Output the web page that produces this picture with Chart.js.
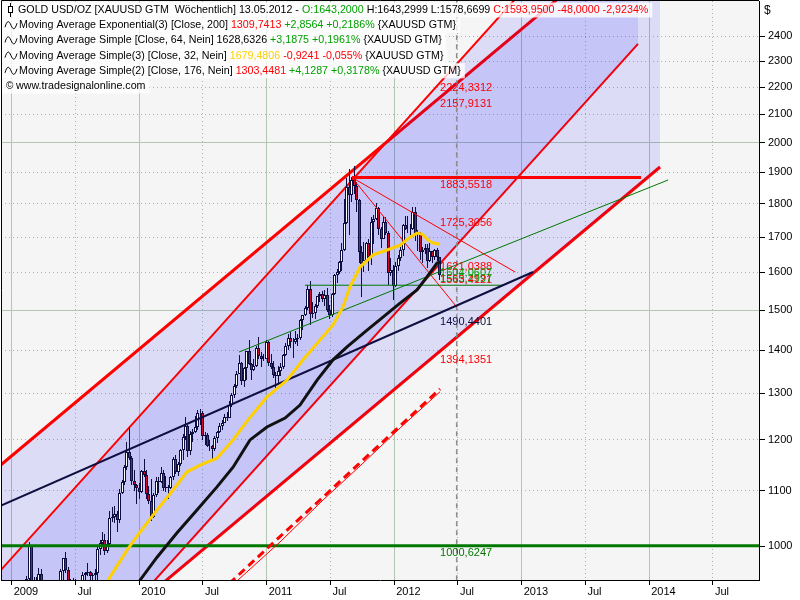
<!DOCTYPE html>
<html>
<head>
<meta charset="utf-8">
<script src="https://cdn.jsdelivr.net/npm/chart.js@4.4.1/dist/chart.umd.min.js"></script>
<style>
html, body { margin: 0; padding: 0; background: #fff; }
</style>
</head>
<body>
<canvas id="chart" width="800" height="600"></canvas>
<script>
// Wochenkerzen GOLD USD/OZ, erste Kerze Freitag 05.12.2008
const candleStart = 2008.926;
const weekStep = 7 / 365.25;

const opens = [815,752,823,838,
  873,878,853,836,899, 927,914,945,1002, 942,941,929,953, 924,898,883,869, 912,887,916,931,958, 979,960,938,935,
  940,931,912,938,951, 954,956,949,952, 955,995,1006,1010, 991,1003,1049,1051,1057, 1045,1096,1117,1146, 1176,1163,1119,1111, 1104,
  1097,1138,1130,1093, 1081,1051,1091,1118, 1117,1133,1104,1107, 1105,1125,1161,1136,1152, 1180,1207,1228,1177, 1212,1217,1226,1256,
  1256,1208,1210,1188,1188, 1181,1204,1216,1228, 1236,1248,1246,1275, 1297,1317,1345,1370,1327, 1357,1397,1367,1353, 1363,1406,1385,1378,1380,
  1421,1369,1361,1342, 1340,1350,1361,1388, 1409,1429,1421,1419, 1428,1429,1474,1486,1504, 1556,1491,1492,1511, 1536,1542,1530,1540,
  1500,1486,1542,1594,1601, 1628,1663,1743,1852, 1829,1877,1856,1813,1657, 1624,1636,1682,1642, 1745,1753,1788,1724, 1696,1746,1713,1598,1606,
  1564,1617,1639,1664, 1737,1725,1724,1725, 1776,1711,1711,1658,1662, 1669,1631,1659,1642, 1663,1643.2];
const highs = [820,830,882,876,
  885,880,857,902,935, 928,950,1007,1002, 948,948,963,962, 935,898,893,915, 915,918,932,962,980, 990,965,945,947,
  945,935,942,957,956, 972,958,955,962, 998,1010,1025,1020, 1010,1062,1070,1072,1062, 1102,1120,1150,1195, 1226,1167,1140,1112, 1115,
  1140,1162,1140,1108, 1123,1095,1125,1125, 1145,1140,1127,1110, 1127,1165,1170,1156,1182, 1212,1249,1232,1218, 1222,1250,1263,1265,
  1262,1216,1215,1200,1190, 1208,1218,1235,1242, 1254,1260,1283,1300, 1320,1350,1388,1373,1360, 1398,1424,1370,1380, 1410,1432,1395,1390,1424,
  1423,1390,1375,1348, 1362,1370,1390,1417, 1440,1445,1430,1448, 1440,1476,1487,1510,1565, 1577,1522,1515,1537, 1547,1550,1552,1558,
  1512,1545,1595,1610,1632, 1682,1814,1881,1912, 1885,1921,1870,1814,1675, 1685,1685,1695,1760, 1767,1803,1790,1730, 1760,1760,1718,1640,1620,
  1630,1648,1672,1740, 1764,1763,1739,1790, 1792,1720,1714,1672,1680, 1680,1682,1660,1667, 1668,1643.3];
const lows = [740,752,820,834,
  860,839,805,832,885, 888,905,940,935, 905,910,882,915, 880,866,865,868, 880,880,908,916,940, 955,935,923,920,
  925,905,910,930,928, 950,934,933,940, 940,985,1000,985, 988,1000,1042,1040,1025, 1040,1094,1110,1140, 1160,1110,1100,1075, 1085,
  1095,1125,1085,1075, 1044,1050,1088,1095, 1115,1100,1098,1085, 1102,1120,1132,1128,1148, 1160,1200,1166,1170, 1195,1215,1220,1232,
  1200,1190,1185,1177,1157, 1178,1193,1215,1220, 1235,1240,1245,1270, 1290,1312,1345,1318,1315, 1330,1365,1330,1350, 1360,1380,1360,1375,1378,
  1362,1355,1335,1310, 1320,1340,1355,1385, 1400,1405,1382,1416, 1410,1425,1450,1485,1500, 1462,1480,1478,1506, 1520,1520,1510,1496,
  1478,1483,1540,1572,1595, 1605,1660,1740,1705, 1805,1830,1776,1627,1535, 1600,1630,1603,1620, 1680,1750,1705,1670, 1695,1705,1565,1590,1525,
  1560,1603,1633,1645, 1722,1712,1705,1722, 1688,1660,1636,1627,1652, 1612,1628,1626,1636, 1633,1578.67];
const closes = [752,823,838,873,
  878,853,836,899,927, 914,945,1002,942, 941,929,953,924, 898,883,869,912, 887,916,931,958,979, 960,938,935,940,
  931,912,938,951,954, 956,949,952,955, 995,1006,1010,991, 1003,1049,1051,1057,1045, 1096,1117,1146,1176, 1163,1119,1111,1104, 1097,
  1138,1130,1093,1081, 1051,1091,1118,1117, 1133,1104,1107,1105, 1125,1161,1136,1152,1180, 1207,1228,1177,1212, 1217,1226,1256,1256,
  1208,1210,1188,1188,1181, 1204,1216,1228,1236, 1248,1246,1275,1297, 1317,1345,1370,1327,1357, 1397,1367,1353,1363, 1406,1385,1378,1380,1421,
  1369,1361,1342,1340, 1350,1361,1388,1409, 1429,1421,1419,1428, 1429,1474,1486,1504,1556, 1491,1492,1511,1536, 1542,1530,1540,1500,
  1486,1542,1594,1601,1628, 1663,1743,1852,1829, 1877,1856,1813,1657,1624, 1636,1682,1642,1745, 1753,1788,1724,1696, 1746,1713,1598,1606,1564,
  1617,1639,1664,1737, 1725,1724,1725,1776, 1711,1711,1658,1662,1669, 1631,1659,1642,1663, 1643,1593.95];

// Gleitende Durchschnitte
const sma32X = [2009.69,2009.755,2009.904,2010.006,2010.14,2010.265,2010.375,2010.477,2010.61,2010.736,2010.853,2011.002,2011.159,2011.285,2011.418,2011.52,2011.598,2011.653,2011.732,2011.834,2011.944,2012.046,2012.124,2012.179,2012.218,2012.265,2012.304,2012.359];
const sma32Y = [911,943,993,1024,1064,1101,1136,1149,1163,1200,1242,1292,1330,1377,1425,1462,1508,1561,1615,1649,1663,1677,1700,1712,1709,1692,1683,1679.48];
const sma64X = [2009.928,2010.006,2010.14,2010.297,2010.453,2010.61,2010.736,2010.869,2011.002,2011.144,2011.261,2011.395,2011.52,2011.63,2011.787,2011.912,2012.046,2012.179,2012.257,2012.336,2012.359];
const sma64Y = [911,943,981,1023,1064,1107,1145,1200,1227,1246,1274,1330,1377,1408,1449,1482,1518,1553,1588,1626,1628.63];
const ema200X = [2010.555,2010.736,2011.104,2011.418,2011.732,2012.046,2012.359];
const ema200Y = [909.8,943.3,1016.3,1082.3,1153.7,1229.2,1309.74];
const sma176X = [2010.595,2010.775,2011.104,2011.442,2011.732,2012.046,2012.359];
const sma176Y = [909.8,943.3,1006.9,1082.3,1147.4,1224.8,1303.45];

// Trendkanal und Linien
const chanOuterX = [2008.916, 2014.085];
const chanOuterTopY = [1149.7, 2966.0];
const chanOuterBotY = [743.4, 1917.9];
const chanInnerX = [2008.916, 2013.912];
const chanInnerTopY = [959.8, 3234.5];
const chanInnerBotY = [703.2, 2369.9];
const trendBlackX = [2008.916, 2013.089], trendBlackY = [1071.9, 1601.3];
const trendGreenX = [2010.783, 2014.148], trendGreenY = [1395.6, 1875.5];
const levelGreenX = [2011.30, 2012.853], levelGreenY = [1565.2997, 1565.2997];
const levelRedX = [2011.669, 2013.936], levelRedY = [1883.5518, 1883.5518];
const fan1X = [2011.669, 2012.948], fan1Y = [1883.5518, 1601.3];
const fan2X = [2011.669, 2012.49], fan2Y = [1883.5518, 1507.8];
const supportX = [2008.916, 2014.861], supportY = [1000.6247, 1000.6247];
const nowX = [2012.49, 2012.49], nowY = [900, 2700];

// Beschriftungen der Linien am letzten Balken
const levelAt = 2012.36;
const levelValues = [2224.3312, 2157.9131, 1883.5518, 1725.3056, 1621.0388, 1604.0607, 1565.2997, 1563.4121, 1490.4401, 1394.1351, 1000.6247];
const levelTexts = ['2224,3312', '2157,9131', '1883,5518', '1725,3056', '1621,0388', '1604,0607', '1565,2997', '1563,4121', '1490,4401', '1394,1351', '1000,6247'];

const xTickValues = [2009, 2009.5, 2010, 2010.5, 2011, 2011.5, 2012, 2012.5, 2013, 2013.5, 2014, 2014.5];
const xTickLabels = ['2009', 'Jul', '2010', 'Jul', '2011', 'Jul', '2012', 'Jul', '2013', 'Jul', '2014', 'Jul'];
const yTickValues = [1000, 1100, 1200, 1300, 1400, 1500, 1600, 1700, 1800, 1900, 2000, 2100, 2200, 2300, 2400];
const yMajor = [1000, 1500, 2000];

const RED = '#ff0000', GREEN = '#00a000', DKGREEN = '#007800', NAVY = '#0e0e40', GOLD = '#ffd000';
const FONT = '"Liberation Sans", Arial, sans-serif';
const chanFill = 'rgba(0,0,255,0.1)';

const levelColors = [RED, RED, RED, RED, RED, GREEN, GREEN, RED, NAVY, RED, DKGREEN];
const levelShift = [7, 6, 7, -6, 2, 2, -6, -6, 8, 7, 7];

const headerRows = [
  [['GOLD USD/OZ [XAUUSD GTM  Wöchentlich] 13.05.2012 - ', '#000'], ['O:1643,2000', GREEN], [' H:1643,2999 L:1578,6699 ', '#000'], ['C:1593,9500 -48,0000 -2,9234%', RED]],
  [['Moving Average Exponential(3) [Close, 200] ', '#000'], ['1309,7413', RED], [' +2,8564 +0,2186% ', GREEN], ['{XAUUSD GTM}', '#000']],
  [['Moving Average Simple [Close, 64, Nein] ', '#000'], ['1628,6326', '#000'], [' +3,1875 +0,1961% ', GREEN], ['{XAUUSD GTM}', '#000']],
  [['Moving Average Simple(3) [Close, 32, Nein] ', '#000'], ['1679,4806', GOLD], [' -0,9241 -0,055% ', RED], ['{XAUUSD GTM}', '#000']],
  [['Moving Average Simple(2) [Close, 176, Nein] ', '#000'], ['1303,4481', RED], [' +4,1287 +0,3178% ', GREEN], ['{XAUUSD GTM}', '#000']],
  [['www.tradesignalonline.com', '#000']]
];

function pts(xs, ys) { return xs.map((x, i) => ({ x: x, y: ys[i] })); }

function lineDs(xs, ys, color, width, order, extra) {
  return Object.assign({
    type: 'line', data: pts(xs, ys), borderColor: color, borderWidth: width,
    pointRadius: 0, pointHoverRadius: 0, tension: 0, fill: false, order: order, clip: 0
  }, extra || {});
}

const weekX = closes.map((c, i) => candleStart + i * weekStep);
const isUp = i => closes[i] >= opens[i];

const datasets = [
  lineDs(chanOuterX, chanOuterTopY, RED, 3, 20, { fill: { target: 1, above: chanFill, below: chanFill } }),
  lineDs(chanOuterX, chanOuterBotY, RED, 3, 20),
  lineDs(chanInnerX, chanInnerTopY, RED, 2, 19, { fill: { target: 3, above: chanFill, below: chanFill } }),
  lineDs(chanInnerX, chanInnerBotY, RED, 2, 19),
  lineDs(nowX, nowY, '#8c8c8c', 1.5, 18, { borderDash: [5, 4] }),
  {
    type: 'bar', order: 10, grouped: false, barThickness: 1, clip: 0,
    data: weekX.map((x, i) => ({ x: x, y: [lows[i], highs[i]] })),
    backgroundColor: NAVY, borderWidth: 0, inflateAmount: 0
  },
  {
    type: 'bar', order: 9, grouped: false, barThickness: 3, clip: 0,
    data: weekX.map((x, i) => ({ x: x, y: [opens[i], closes[i]] })),
    backgroundColor: c => isUp(c.dataIndex) ? '#ffffff' : '#cc0a30',
    borderColor: NAVY, borderWidth: 1, borderSkipped: false, inflateAmount: 0
  },
  lineDs(supportX, supportY, DKGREEN, 3, 6),
  lineDs(levelRedX, levelRedY, RED, 3, 6),
  lineDs(levelGreenX, levelGreenY, DKGREEN, 1, 6),
  lineDs(trendGreenX, trendGreenY, DKGREEN, 1, 6),
  lineDs(fan1X, fan1Y, RED, 1, 6),
  lineDs(fan2X, fan2Y, RED, 1, 6),
  lineDs(trendBlackX, trendBlackY, NAVY, 2, 5),
  lineDs(sma176X, sma176Y, RED, 1, 4),
  lineDs(ema200X, ema200Y, RED, 3, 4, { borderDash: [8, 5] }),
  lineDs(sma64X, sma64Y, '#111111', 3, 3),
  lineDs(sma32X, sma32Y, GOLD, 3, 2)
];

function drawIcon(ctx, row, y) {
  ctx.strokeStyle = '#000';
  ctx.fillStyle = '#000';
  ctx.lineWidth = 1;
  if (row === 0) {
    ctx.beginPath();
    ctx.moveTo(10.5, y - 7); ctx.lineTo(10.5, y + 7);
    ctx.stroke();
    ctx.fillStyle = '#fff';
    ctx.fillRect(8, y - 3, 5, 6);
    ctx.strokeRect(8.5, y - 3.5, 4, 6);
  } else if (row < 5) {
    ctx.beginPath();
    ctx.moveTo(5, y + 2);
    ctx.bezierCurveTo(7, y - 5, 9, y - 5, 11, y);
    ctx.bezierCurveTo(13, y + 5, 15, y + 5, 17, y - 2);
    ctx.stroke();
  } else {
    ctx.font = '10px ' + FONT;
    ctx.fillText('\u00a9', 6, y);
  }
}

const HFONT = '10.7px ' + FONT;

// Kerzen auf ganze Pixel legen, damit sie scharf bleiben
const snapBars = {
  id: 'snapBars',
  afterDatasetsUpdate(chart) {
    chart.data.datasets.forEach((ds, i) => {
      if (ds.type !== 'bar') return;
      chart.getDatasetMeta(i).data.forEach(el => {
        el.x = Math.floor(el.x) + 0.5;
        el.y = Math.round(el.y);
        el.base = Math.round(el.base);
      });
    });
  }
};

const decor = {
  id: 'decor',
  beforeDraw(chart) {
    const { ctx, chartArea: a } = chart;
    ctx.save();
    ctx.fillStyle = '#ffffff';
    ctx.fillRect(0, 0, chart.width, chart.height);
    ctx.fillStyle = '#f5f5f5';
    ctx.fillRect(a.left, a.top, a.right - a.left, a.bottom - a.top);
    ctx.restore();
  },
  afterDatasetsDraw(chart) {
    const { ctx, chartArea: a, scales } = chart;
    ctx.save();
    ctx.font = '11px ' + FONT;
    ctx.textBaseline = 'middle';
    ctx.textAlign = 'left';
    const lx = scales.x.getPixelForValue(levelAt);
    levelValues.forEach((v, i) => {
      ctx.fillStyle = levelColors[i];
      ctx.fillText(levelTexts[i], lx, scales.y.getPixelForValue(v) + levelShift[i]);
    });

    headerRows.forEach((row, r) => {
      const cy = 10 + r * 15.2;
      const x0 = r === 0 ? 18 : (r === 5 ? 16 : 19);
      ctx.font = HFONT;
      const w = row.reduce((s, seg) => s + ctx.measureText(seg[0]).width, 0);
      ctx.fillStyle = 'rgba(255,255,255,0.8)';
      ctx.fillRect(2, cy - 7.5, x0 + w + 2, 15);
      drawIcon(ctx, r, cy);
      ctx.font = HFONT;
      let x = x0;
      row.forEach(seg => {
        ctx.fillStyle = seg[1];
        ctx.fillText(seg[0], x, cy);
        x += ctx.measureText(seg[0]).width;
      });
    });

    ctx.strokeStyle = '#000';
    ctx.lineWidth = 1;
    ctx.beginPath();
    ctx.moveTo(a.left + 0.5, a.bottom);
    ctx.lineTo(a.left + 0.5, a.top - 0.5);
    ctx.lineTo(a.right, a.top - 0.5);
    ctx.stroke();
    ctx.fillStyle = '#000';
    ctx.font = '12px ' + FONT;
    ctx.fillText('$', 764, 11);
    ctx.restore();
  }
};

new Chart(document.getElementById('chart'), {
  type: 'line',
  data: { datasets: datasets },
  plugins: [snapBars, decor],
  options: {
    responsive: false,
    animation: false,
    devicePixelRatio: 1,
    events: [],
    layout: { padding: { top: 1, left: 1, right: 0, bottom: 0 } },
    plugins: { legend: { display: false }, tooltip: { enabled: false } },
    scales: {
      x: {
        type: 'linear', min: 2008.916, max: 2014.861, offset: false,
        afterBuildTicks: axis => { axis.ticks = xTickValues.map(v => ({ value: v })); },
        afterFit: axis => { axis.height = 20; axis.paddingLeft = 0; axis.paddingRight = 0; },
        ticks: {
          autoSkip: false, maxRotation: 0, minRotation: 0, align: 'start', labelOffset: 2, padding: 0,
          color: '#000', font: { family: FONT, size: 11 },
          callback: (v, i) => xTickLabels[i]
        },
        grid: {
          offset: false,
          color: c => (c.tick && Number.isInteger(c.tick.value)) ? '#b2c6b2' : '#a6b6a6',
          lineWidth: 1, drawTicks: true, tickLength: 5, tickColor: '#000', tickWidth: 1
        },
        border: { display: true, color: '#000', width: 1,
          dash: c => (c.tick && !Number.isInteger(c.tick.value)) ? [1, 3] : [] }
      },
      y: {
        type: 'logarithmic', position: 'right', min: 943.3, max: 2550.8,
        afterBuildTicks: axis => { axis.ticks = yTickValues.map(v => ({ value: v })); },
        afterFit: axis => { axis.width = 41; axis.paddingTop = 0; axis.paddingBottom = 0; },
        ticks: {
          autoSkip: false, padding: 3, color: '#000', font: { family: FONT, size: 11 },
          callback: v => String(v)
        },
        grid: {
          color: c => (c.tick && yMajor.includes(c.tick.value)) ? '#b2c6b2' : '#a6b6a6',
          lineWidth: 1, drawTicks: true, tickLength: 6, tickColor: '#000', tickWidth: 1
        },
        border: { display: true, color: '#000', width: 1,
          dash: c => (c.tick && !yMajor.includes(c.tick.value)) ? [1, 3] : [] }
      }
    }
  }
});
</script>
</body>
</html>
